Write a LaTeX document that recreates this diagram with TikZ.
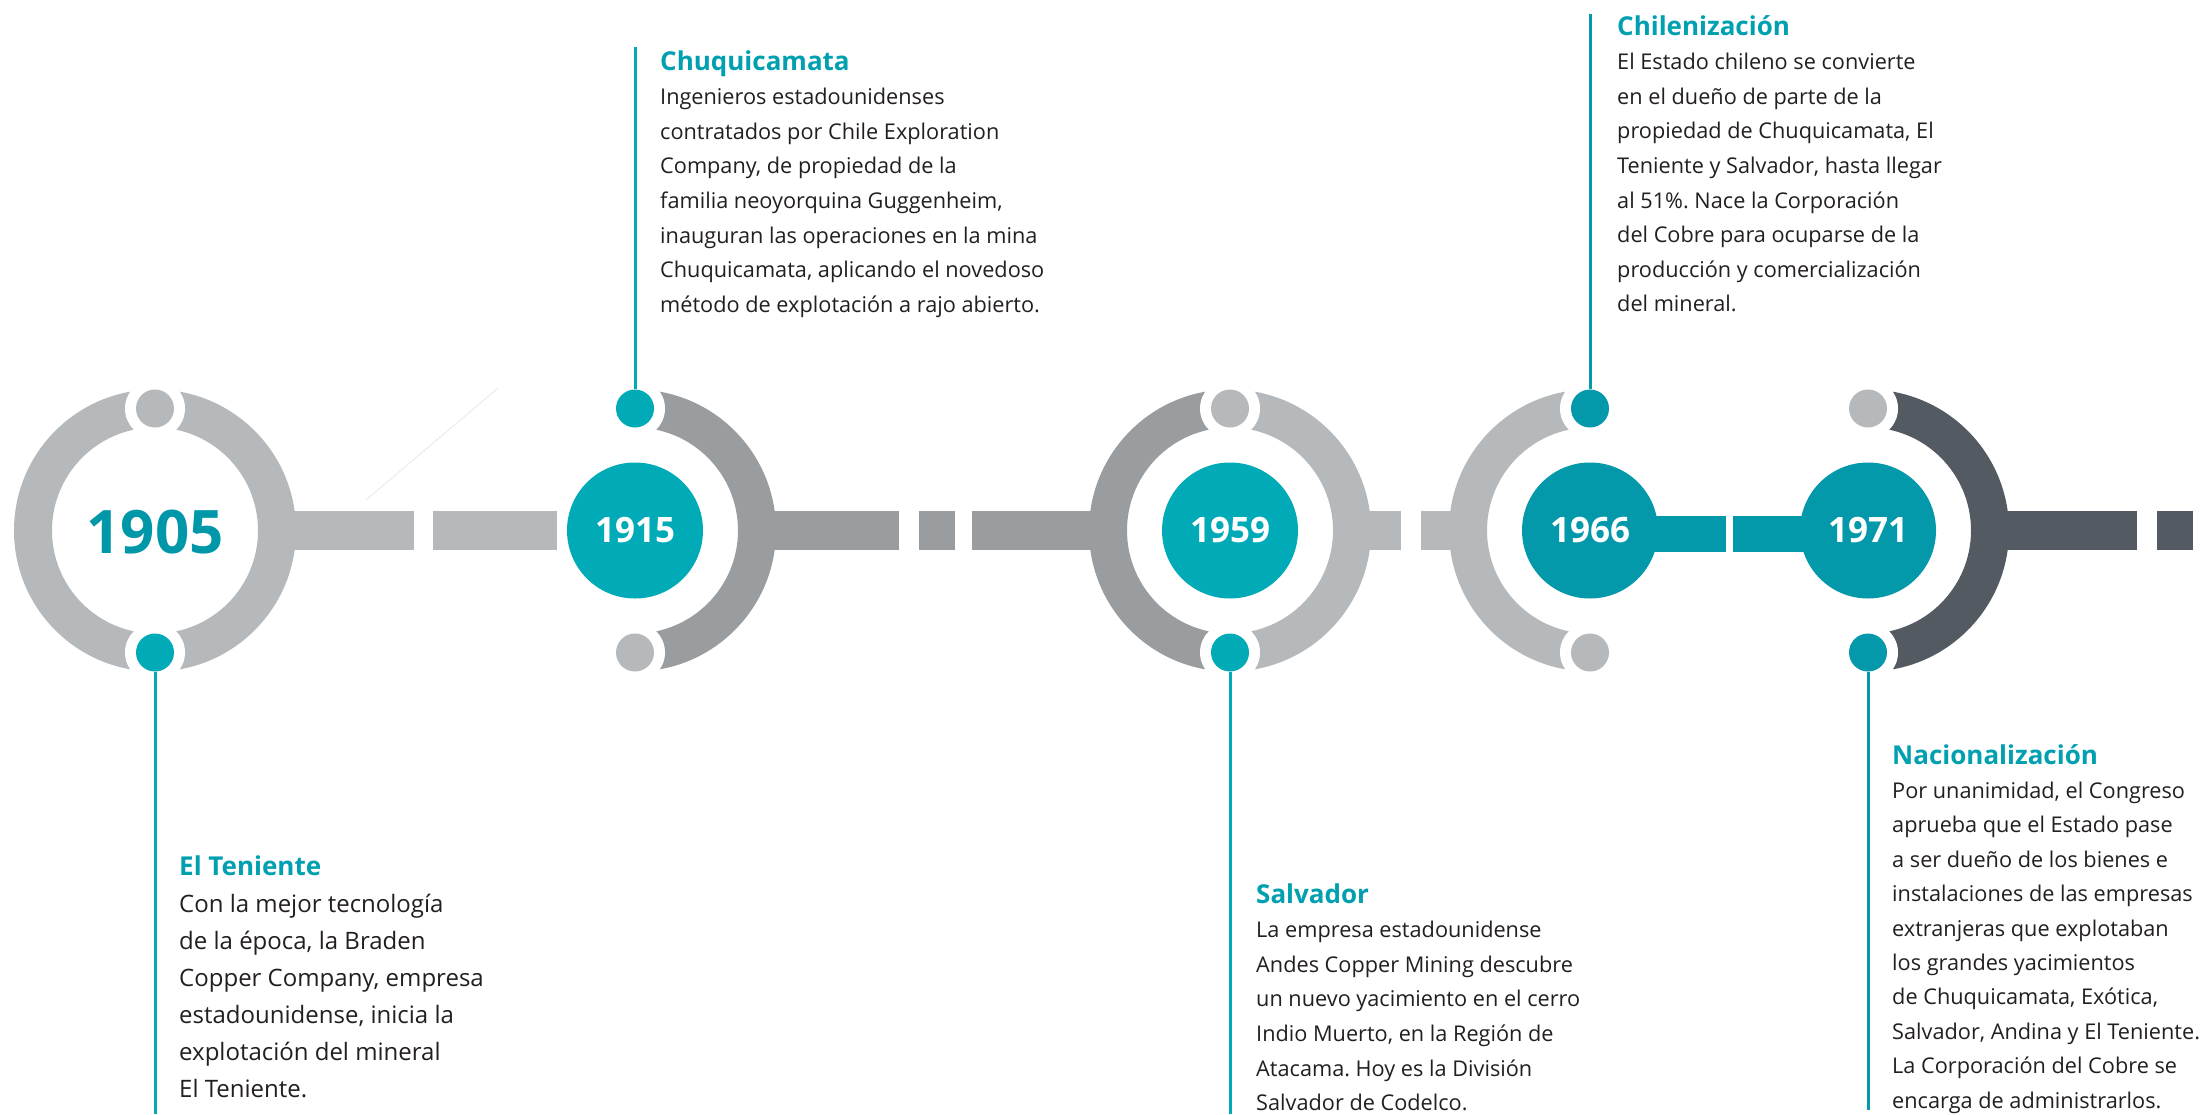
\documentclass[tikz,border=0pt]{standalone}
\usepackage{fontspec}
\setmainfont{Open Sans}
\frenchspacing

\definecolor{ringlight}{HTML}{B6B9BC}
\definecolor{ringmid}{HTML}{9A9DA0}
\definecolor{ringdark}{HTML}{535A61}
\definecolor{tealbright}{HTML}{00AAB6}
\definecolor{tealdeep}{HTML}{0399AA}
\definecolor{yearteal}{HTML}{0098A8}
\definecolor{titleteal}{HTML}{00A0B0}
\definecolor{bodyink}{HTML}{231F20}

% full annulus: centre, colour
\newcommand\ringfull[2]{%
  \fill[#2,even odd rule] (#1) circle[radius=141pt] (#1) circle[radius=103pt];}
% half annulus: centre x, centre y, side (+1 right, -1 left), colour
\newcommand\ringhalf[4]{%
  \begin{scope}
    \clip ({#1},{#2-150}) rectangle ({#1+#3*150},{#2+150});
    \fill[#4,even odd rule] (#1,#2) circle[radius=141pt] (#1,#2) circle[radius=103pt];
  \end{scope}}
% text block: name, x, title baseline, line step, body size, title, lines
\newcommand\infoblock[7]{%
  \node[ttl] (#1) at (#2,#3) {#6};
  \foreach \txtline [count=\k] in {#7}
    {\node[bodytxt, font=\fontsize{#5}{#5}\selectfont] (#1-\k) at ({#2},{#3+\k*#4}) {\txtline};}}

\begin{document}
\begin{tikzpicture}[x=1pt,y=-1pt,
  dot/.style={circle, minimum size=38pt, inner sep=0pt},
  yearbox/.style={circle, minimum size=136pt, inner sep=0pt, text=white,
    font=\fontsize{35}{35}\selectfont\bfseries},
  yearbig/.style={inner sep=0pt, text=yearteal, font=\fontsize{60}{60}\selectfont\bfseries},
  ttl/.style={anchor=base west, inner sep=0pt, text=titleteal,
    font=\fontsize{26}{26}\selectfont\bfseries},
  bodytxt/.style={anchor=base west, inner sep=0pt, text=bodyink},
  stem/.style={line width=3pt},
  faintline/.style={draw=black!9, line width=0.8pt}]

\useasboundingbox (0,0) rectangle (2203,1114);
\fill[white] (0,0) rectangle (2203,1114);

% stray hairline near the first segment
\draw[faintline] (366,500) -- (498,388);

% bar segments
\fill[ringlight] (285,511) rectangle (414,550);
\fill[ringlight] (433,511) rectangle (557,550);
\fill[ringmid] (760,511) rectangle (899,550);
\fill[ringmid] (919,511) rectangle (955,550);
\fill[ringmid] (972,511) rectangle (1100,550);
\fill[ringlight] (1360,511) rectangle (1401,550);
\fill[ringlight] (1421,511) rectangle (1460,550);
\fill[tealdeep] (1590,516) rectangle (1726,552);
\fill[tealdeep] (1733,516) rectangle (1868,552);
\fill[ringdark] (2000,511) rectangle (2137,550);
\fill[ringdark] (2157,511) rectangle (2193,550);

% rings
\ringfull{155,530.5}{ringlight}
\ringhalf{635}{530.5}{1}{ringmid}
\ringhalf{1230}{530.5}{-1}{ringmid}
\ringhalf{1230}{530.5}{1}{ringlight}
\ringhalf{1590}{530.5}{-1}{ringlight}
\ringhalf{1868}{530.5}{1}{ringdark}

% white gaps round the dots
\foreach \cx in {155,635,1230,1590,1868}{
  \fill[white] (\cx,408.5) circle[radius=30pt];
  \fill[white] (\cx,652.5) circle[radius=30pt];
}

% dots
\node[dot, fill=ringlight]  (d1905t) at (155,408.5) {};
\node[dot, fill=tealbright] (d1905b) at (155,652.5) {};
\node[dot, fill=tealbright] (d1915t) at (635,408.5) {};
\node[dot, fill=ringlight]  (d1915b) at (635,652.5) {};
\node[dot, fill=ringlight]  (d1959t) at (1230,408.5) {};
\node[dot, fill=tealbright] (d1959b) at (1230,652.5) {};
\node[dot, fill=tealdeep]   (d1966t) at (1590,408.5) {};
\node[dot, fill=ringlight]  (d1966b) at (1590,652.5) {};
\node[dot, fill=ringlight]  (d1971t) at (1868,408.5) {};
\node[dot, fill=tealdeep]   (d1971b) at (1868,652.5) {};

% years
\node[yearbig] (y1905) at (155,532) {1905};
\node[yearbox, fill=tealbright] (y1915) at (635,530.5) {1915};
\node[yearbox, fill=tealbright] (y1959) at (1230,530.5) {1959};
\node[yearbox, fill=tealdeep]   (y1966) at (1590,530.5) {1966};
\node[yearbox, fill=tealdeep]   (y1971) at (1868,530.5) {1971};

% stems to the texts
\coordinate (e1905) at (155,1114);
\coordinate (e1915) at (635,47);
\coordinate (e1959) at (1230,1114);
\coordinate (e1966) at (1590,14);
\coordinate (e1971) at (1868,1110);
\draw[stem, tealbright] (d1905b.south) -- (e1905);
\draw[stem, tealbright] (d1915t.north) -- (e1915);
\draw[stem, tealbright] (d1959b.south) -- (e1959);
\draw[stem, tealdeep]   (d1966t.north) -- (e1966);
\draw[stem, tealdeep]   (d1971b.south) -- (e1971);

% texts
\infoblock{chuqui}{660}{70}{34.6}{21.7}{Chuquicamata}{%
  {Ingenieros estadounidenses},
  {contratados por Chile Exploration},
  {Company, de propiedad de la},
  {familia neoyorquina Guggenheim,},
  {inauguran las operaciones en la mina},
  {Chuquicamata, aplicando el novedoso},
  {método de explotación a rajo abierto.}}

\infoblock{chilen}{1617}{35}{34.6}{21.7}{Chilenización}{%
  {El Estado chileno se convierte},
  {en el dueño de parte de la},
  {propiedad de Chuquicamata, El},
  {Teniente y Salvador, hasta llegar},
  {al 51\%. Nace la Corporación},
  {del Cobre para ocuparse de la},
  {producción y comercialización},
  {del mineral.}}

\infoblock{tenien}{179}{875}{37}{24}{El Teniente}{%
  {Con la mejor tecnología},
  {de la época, la Braden},
  {Copper Company, empresa},
  {estadounidense, inicia la},
  {explotación del mineral},
  {El Teniente.}}

\infoblock{salva}{1256}{903}{34.6}{21.7}{Salvador}{%
  {La empresa estadounidense},
  {Andes Copper Mining descubre},
  {un nuevo yacimiento en el cerro},
  {Indio Muerto, en la Región de},
  {Atacama. Hoy es la División},
  {Salvador de Codelco.}}

\infoblock{nacion}{1892}{764}{34.4}{21.7}{Nacionalización}{%
  {Por unanimidad, el Congreso},
  {aprueba que el Estado pase},
  {a ser dueño de los bienes e},
  {instalaciones de las empresas},
  {extranjeras que explotaban},
  {los grandes yacimientos},
  {de Chuquicamata, Exótica,},
  {Salvador, Andina y El Teniente.},
  {La Corporación del Cobre se},
  {encarga de administrarlos.}}

\end{tikzpicture}
\end{document}
